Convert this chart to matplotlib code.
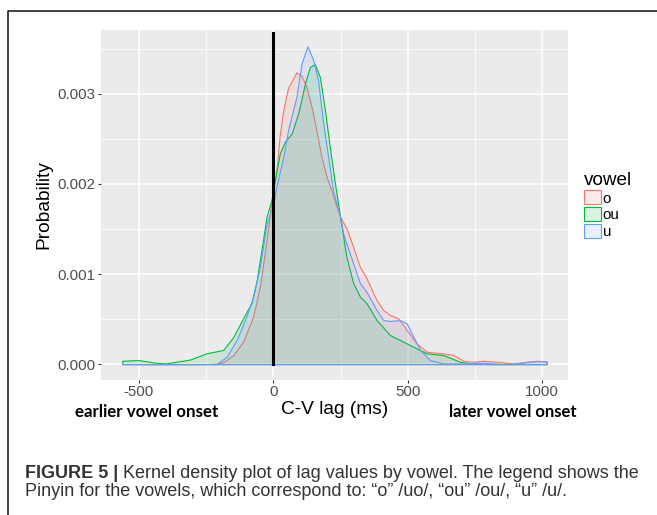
import numpy as np
import matplotlib.pyplot as plt
from matplotlib.colors import to_rgba
from matplotlib.lines import Line2D
from matplotlib.patches import Patch

W, H, DPI = 657, 515, 100

vowels = ['o', 'ou', 'u']
colors = ['#F8766D', '#00BA38', '#619CFF']

# densities, in units of 1e-3
lag_o = [-562, -250, -211, -187, -149, -112, -75, -50, -25, -7, 0, 12, 24, 37,
         55, 86, 105, 123, 142, 160, 179, 198, 216, 235, 248, 273, 297, 322,
         347, 384, 409, 434, 465, 496, 533, 570, 632, 670, 707, 744, 781, 831,
         893, 942, 980, 1017]
dens_o = [0.0, 0.0, 0.004, 0.02, 0.10, 0.25, 0.53, 0.86, 1.38, 1.80, 1.95,
          2.16, 2.55, 2.82, 3.07, 3.24, 3.20, 3.08, 2.86, 2.60, 2.30, 2.08,
          1.93, 1.75, 1.64, 1.50, 1.30, 1.08, 0.95, 0.71, 0.60, 0.544, 0.507,
          0.378, 0.23, 0.137, 0.119, 0.10, 0.037, 0.026, 0.037, 0.026, 0.007,
          0.026, 0.037, 0.03]

lag_ou = [-562, -500, -440, -400, -310, -248, -187, -149, -112, -81, -62, -44,
          -25, -7, 6, 24, 43, 68, 93, 118, 136, 154, 173, 192, 210, 229, 248,
          272, 297, 322, 347, 384, 434, 484, 533, 570, 632, 694, 732, 800, 1017]
dens_ou = [0.037, 0.044, 0.015, 0.007, 0.05, 0.12, 0.156, 0.30, 0.51, 0.68,
           0.93, 1.27, 1.64, 1.82, 2.05, 2.34, 2.47, 2.56, 2.79, 3.12, 3.30,
           3.33, 3.19, 2.82, 2.41, 2.01, 1.64, 1.19, 0.90, 0.75, 0.674, 0.489,
           0.322, 0.248, 0.174, 0.119, 0.10, 0.026, 0.007, 0.0, 0.0]

lag_u = [-562, -400, -250, -211, -174, -136, -100, -75, -50, -25, 0, 12, 37,
         55, 86, 105, 127, 148, 166, 185, 204, 222, 248, 260, 284, 322, 347,
         384, 409, 434, 471, 496, 521, 546, 583, 632, 719, 781, 856, 905, 955,
         992, 1017]
dens_u = [0.0, 0.0, 0.0, 0.0, 0.08, 0.27, 0.53, 0.75, 1.08, 1.56, 1.78, 1.98,
          2.30, 2.60, 2.97, 3.34, 3.53, 3.38, 3.16, 2.68, 2.30, 1.93, 1.64,
          1.45, 1.23, 0.90, 0.80, 0.60, 0.489, 0.478, 0.489, 0.452, 0.304,
          0.156, 0.044, 0.007, 0.007, 0.015, 0.0, 0.007, 0.026, 0.033, 0.026]

series = [(lag_o, dens_o), (lag_ou, dens_ou), (lag_u, dens_u)]

x_ticks = [-500, 0, 500, 1000]
x_minor = [-250, 250, 750]
y_ticks = [0.0, 0.001, 0.002, 0.003]
y_minor = [0.0005, 0.0015, 0.0025, 0.0035]

caption_bold = 'FIGURE 5 |'
caption_1 = ' Kernel density plot of lag values by vowel. The legend shows the'
caption_2 = 'Pinyin for the vowels, which correspond to: \u201co\u201d /uo/, \u201cou\u201d /ou/, \u201cu\u201d /u/.'


def fx(x):
    return x / W


def fy(y):
    return 1 - y / H


plt.rcParams['font.family'] = ['Liberation Sans', 'DejaVu Sans']

fig = plt.figure(figsize=(W / DPI, H / DPI), dpi=DPI)
ax = fig.add_axes([fx(101), fy(380), (568 - 101) / W, (380 - 30) / H])
ax.set_facecolor('#EBEBEB')
for s in ax.spines.values():
    s.set_visible(False)

ax.set_xlim(-641, 1096)
ax.set_ylim(-0.000177, 0.00371)
ax.set_xticks(x_ticks)
ax.set_xticks(x_minor, minor=True)
ax.set_yticks(y_ticks)
ax.set_yticks(y_minor, minor=True)
ax.set_xticklabels([str(t) for t in x_ticks])
ax.set_yticklabels(['%.3f' % t for t in y_ticks])
ax.grid(True, which='major', color='white', lw=1.1)
ax.grid(True, which='minor', color='white', lw=0.55)
ax.set_axisbelow(True)
ax.tick_params(which='major', length=2.4, width=0.8, color='#333333',
               labelcolor='#4D4D4D', labelsize=10.8, pad=1.5)
ax.tick_params(which='minor', length=0)

for (xs, ds), c in zip(series, colors):
    ys = np.array(ds) * 1e-3
    ax.fill_between(xs, ys, 0, facecolor=to_rgba(c, 0.12), edgecolor=c,
                    lw=0.8, zorder=2)

ax.plot([0, 0], [0, 0.00368], color='black', lw=2.2, zorder=3)

handles = [Patch(facecolor=to_rgba(c, 0.15), edgecolor=c, lw=0.8) for c in colors]
leg = fig.legend(handles, vowels, title='vowel', loc='upper left',
                 bbox_to_anchor=(fx(584), fy(172)), frameon=False,
                 fontsize=10.8, title_fontsize=13.6, alignment='left',
                 handlelength=1.1, handleheight=1.05, labelspacing=0.1,
                 handletextpad=0.15, borderpad=0, borderaxespad=0)

fig.text(fx(44), fy(205), 'Probability', rotation=90, ha='center', va='center',
         fontsize=13.8)
fig.text(fx(334.5), fy(410), 'C-V lag (ms)', ha='center', va='center',
         fontsize=13.8)
fig.text(fx(147), fy(412), 'earlier vowel onset', ha='center', va='center',
         fontsize=12.2, fontweight='bold', family='Lato')
fig.text(fx(513), fy(412), 'later vowel onset', ha='center', va='center',
         fontsize=12, fontweight='bold', family='Lato')

# caption, bold lead then regular text
t = fig.text(fx(25), fy(473), caption_bold, ha='left', va='center',
             fontsize=13, fontweight='bold', color='#333333')
r = fig.canvas.get_renderer()
bb = t.get_window_extent(r)
fig.text(bb.x1 / W, fy(473), caption_1, ha='left', va='center',
         fontsize=13, color='#333333')
fig.text(fx(25), fy(492), caption_2, ha='left', va='center',
         fontsize=13, color='#333333')

# outer frame (left and top edge)
fig.add_artist(Line2D([fx(8), fx(8), 1.0], [0.0, fy(11), fy(11)],
                      color='#222222', lw=1.2))

fig.savefig('out.png', dpi=DPI)
